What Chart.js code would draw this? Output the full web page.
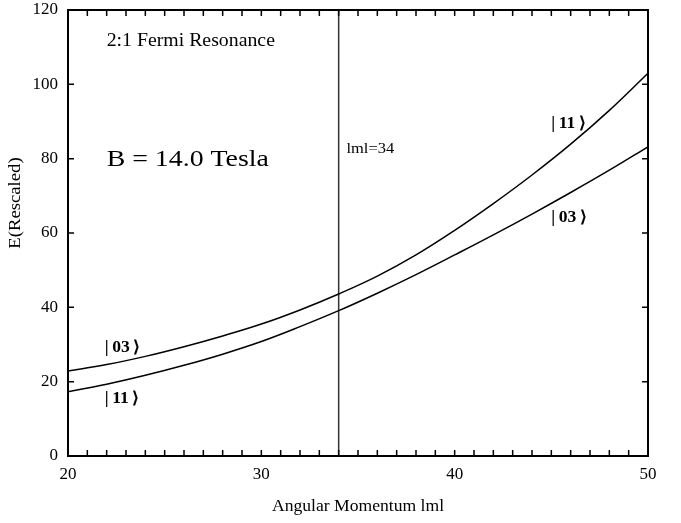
<!DOCTYPE html>
<html>
<head>
<meta charset="utf-8">
<script src="https://cdn.jsdelivr.net/npm/chart.js@4/dist/chart.umd.min.js"></script>
<style>
  html, body { margin: 0; padding: 0; background: #fff; }
  #wrap { width: 681px; height: 523px; }
</style>
</head>
<body>
<div id="wrap"><canvas id="c" width="681" height="523"></canvas></div>
<script>
// Angular momentum |m| sampled along the two energy branches
const momentum = [20, 22, 24, 26, 28, 30, 32, 34, 36, 38, 40, 42, 44, 46, 48, 50];
// Upper branch (|03> at small |m|, |11> at large |m|)
const upperBranch = [22.9, 24.6, 26.8, 29.4, 32.3, 35.5, 39.3, 43.6, 48.4, 54.1, 60.7, 67.9, 75.6, 83.9, 93.0, 103.0];
// Lower branch (|11> at small |m|, |03> at large |m|)
const lowerBranch = [17.3, 19.3, 21.7, 24.4, 27.4, 30.8, 34.8, 39.1, 43.8, 48.8, 54.1, 59.5, 65.1, 70.9, 76.9, 83.2];
// Marker at the resonance value of |m|
const resonanceM = 34;
const xTicks = [20, 30, 40, 50];
const yTicks = [0, 20, 40, 60, 80, 100, 120];

const SERIF = '"Liberation Serif", "Times New Roman", serif';

const pts = (ys) => momentum.map((m, i) => ({ x: m, y: ys[i] }));

// Draws text horizontally widened by factor sx at (x, y)
function wideText(ctx, txt, x, y, font, sx, align) {
  ctx.save();
  ctx.font = font;
  ctx.translate(x, y);
  ctx.scale(sx, 1);
  ctx.textAlign = align || 'left';
  ctx.fillText(txt, 0, 0);
  ctx.restore();
}

const framePlugin = {
  id: 'frame',
  afterDraw(chart) {
    const { ctx, chartArea: a, scales } = chart;
    const xs = scales.x, ys = scales.y;
    ctx.save();
    ctx.strokeStyle = '#000';
    ctx.lineWidth = 2;
    ctx.strokeRect(a.left, a.top, a.right - a.left, a.bottom - a.top);
    // inward ticks
    ctx.lineWidth = 1.5;
    ctx.beginPath();
    for (let m = 21; m < 50; m++) {
      const px = xs.getPixelForValue(m);
      ctx.moveTo(px, a.bottom); ctx.lineTo(px, a.bottom - 6);
      ctx.moveTo(px, a.top); ctx.lineTo(px, a.top + 6);
    }
    for (const v of yTicks) {
      if (v === 0 || v === 120) continue;
      const py = ys.getPixelForValue(v);
      ctx.moveTo(a.left, py); ctx.lineTo(a.left + 6, py);
      ctx.moveTo(a.right, py); ctx.lineTo(a.right - 6, py);
    }
    ctx.stroke();

    // annotations
    ctx.fillStyle = '#000';
    ctx.textBaseline = 'alphabetic';
    const put = (txt, m, e, font, sx) =>
      wideText(ctx, txt, xs.getPixelForValue(m), ys.getPixelForValue(e), font, sx);
    put('2:1 Fermi Resonance', 22.0, 110.3, '18px ' + SERIF, 1.1);
    put('B = 14.0 Tesla', 22.0, 78.0, '24px ' + SERIF, 1.16);
    put('lml=34', 34.4, 81.5, '15px ' + SERIF, 1.1);
    const ket = 'bold 16px ' + SERIF;
    put('|\u200903\u2009\u27E9', 21.9, 28.0, ket, 1.1);
    put('|\u200911\u2009\u27E9', 21.9, 14.3, ket, 1.1);
    put('|\u200911\u2009\u27E9', 45.0, 88.2, ket, 1.1);
    put('|\u200903\u2009\u27E9', 45.0, 63.0, ket, 1.1);

    // axis titles
    ctx.textBaseline = 'middle';
    wideText(ctx, 'Angular Momentum lml', (a.left + a.right) / 2, 507, '16px ' + SERIF, 1.1, 'center');
    ctx.translate(16, 203);
    ctx.rotate(-Math.PI / 2);
    wideText(ctx, 'E(Rescaled)', 0, 0, '17px ' + SERIF, 1.1, 'center');
    ctx.restore();
  }
};

new Chart(document.getElementById('c'), {
  type: 'line',
  data: {
    datasets: [
      { data: pts(upperBranch), borderColor: '#000', borderWidth: 1.5, pointRadius: 0, tension: 0.4, fill: false },
      { data: pts(lowerBranch), borderColor: '#000', borderWidth: 1.5, pointRadius: 0, tension: 0.4, fill: false },
      { data: [{ x: resonanceM, y: 0 }, { x: resonanceM, y: 120 }], borderColor: '#333', borderWidth: 1.5, pointRadius: 0, fill: false }
    ]
  },
  options: {
    responsive: false,
    animation: false,
    events: [],
    layout: { padding: { left: 0, right: 33, top: 10, bottom: 0 } },
    plugins: { legend: { display: false }, tooltip: { enabled: false } },
    scales: {
      x: {
        type: 'linear', min: 20, max: 50,
        grid: { display: false, drawTicks: false },
        border: { display: false },
        afterBuildTicks: (s) => { s.ticks = xTicks.map(v => ({ value: v })); },
        afterFit: (s) => { s.height = 67; s.paddingLeft = 0; s.paddingRight = 0; },
        ticks: { padding: 8, color: '#000', font: { family: SERIF, size: 17 }, maxRotation: 0 }
      },
      y: {
        type: 'linear', min: 0, max: 120,
        grid: { display: false, drawTicks: false },
        border: { display: false },
        afterBuildTicks: (s) => { s.ticks = yTicks.map(v => ({ value: v })); },
        afterFit: (s) => { s.width = 68; s.paddingTop = 0; s.paddingBottom = 0; },
        ticks: { padding: 10, color: '#000', font: { family: SERIF, size: 17 } }
      }
    }
  },
  plugins: [framePlugin]
});
</script>
</body>
</html>
